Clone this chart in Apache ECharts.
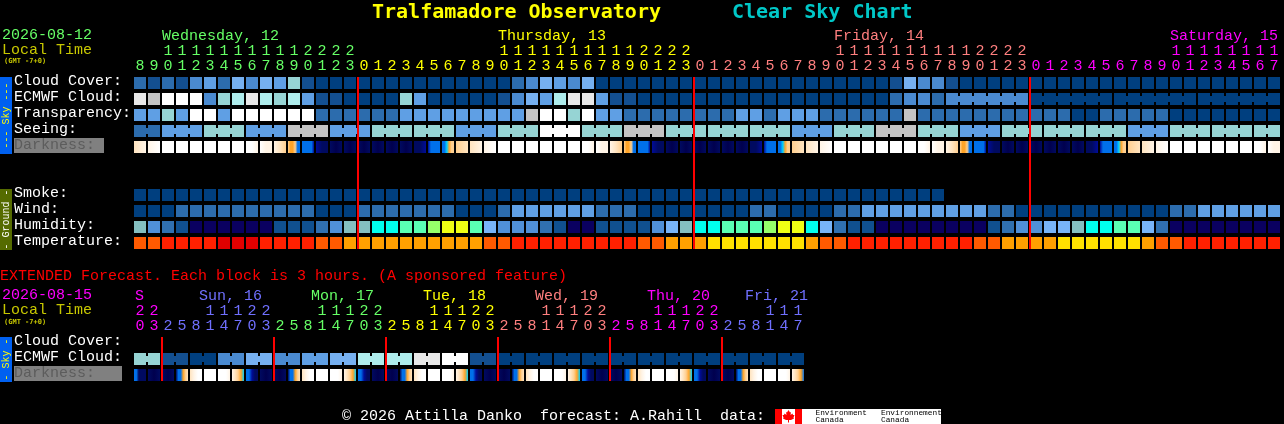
<!DOCTYPE html>
<html>
<head>
<meta charset="utf-8">
<style>html,body{margin:0;padding:0;background:#000}#c{width:1284px;height:424px}</style>
<script src="https://cdn.jsdelivr.net/npm/echarts@6/dist/echarts.min.js"></script>
</head>
<body>
<div id="c"></div>
<script>
/* ---------- row names ---------- */
const mainRows = ['Cloud Cover:','ECMWF Cloud:','Transparency:','Seeing:','Darkness:','','','Smoke:','Wind:','Humidity:','Temperature:'];
const extRows = ['Cloud Cover:','ECMWF Cloud:','Darkness:'];

/* ---------- tick labels ---------- */
const mainOnes = '8901234567890123012345678901234567890123012345678901234567890123012345678901234567'.split('');
const mainTens = '  11111111112222          11111111112222          11111111112222          11111111'.split('');
const mainDays = [[2,'Wednesday, 12',0],[26,'Thursday, 13',1],[50,'Friday, 14',2],[74,'Saturday, 15',3]];
const mainDayOf = [16,40,64,82];            // first column after each day
const extOnes = '032581470325814703258147032581470325814703258147'.split('');
const extTens = '22   11122   11122   11122   11122   11122   111'.split('');
const extDays = [[0,'S',3,-5],[5,'Sun, 16',4,-11],[13,'Mon, 17',0,-11],[21,'Tue, 18',1,-11],[29,'Wed, 19',2,-11],[37,'Thu, 20',3,-11],[44,'Fri, 21',4,-11]];
const extDayOf = [[2,3],[10,4],[18,0],[26,1],[34,2],[42,3],[48,4]];
const dayColors = ['#66ff66','#ffff00','#ff7f7f','#ff00ff','#7070ff'];
const mainMidnights = [16,40,64];
const extMidnights = [2,10,18,26,34,42];

/* ---------- palettes ---------- */
const skyPalette = ['#003f7f','#134f90','#2c6cad','#4a8ad0','#5f9fe4','#76b0f0','#96d4d4','#aeecec','#e8e8e8','#c4c4c4','#ffffff'];
const humidityPalette = ['#0a0060','#10508f','#3070b0','#5090d8','#78b4f8','#84bfc0','#00ffee','#5affb4','#96ff6a','#f0ff14'];
const temperaturePalette = ['#e00000','#ff2000','#ff5a00','#ffa000','#ffe000'];
const darknessPalette = ['#ffffff','#fff4e6','#ffe4c0','#ffcf90','#ffa428','#00d0ff','#0070ea','#000c98','#000a60','#00004e'];

/* ---------- sky rows ---------- */
const cloudCover = [
 2,1,2,1,3,4,2,5,3,5,
 4,6,1,0,0,0,0,0,0,0,
 0,0,0,0,0,0,0,2,3,5,
 4,3,5,0,0,0,0,0,0,0,
 0,0,0,0,0,0,0,0,0,0,
 0,0,0,0,1,5,3,3,1,0,
 0,0,0,0,0,0,0,0,0,0,
 0,0,0,0,0,0,0,0,0,0,0,0];
const ecmwfCloud = [
 8,9,10,10,10,3,6,7,8,7,
 6,7,4,1,1,0,0,0,0,6,
 4,0,0,0,0,0,1,3,5,4,
 7,8,8,4,1,1,0,0,0,0,
 0,0,0,0,0,0,0,0,0,0,
 0,0,0,0,2,3,3,2,3,3,
 3,3,3,3,0,0,0,0,0,0,
 0,0,0,0,0,0,0,0,0,0,0,0];
const ecmwfRuns = [1,1,1,1,1,1,1,1,1,1,1,1,1,1,1,1,1,1,1,1,1,1,1,1,1,1,1,1,1,1,1,1,1,1,1,1,1,1,1,1,1,1,1,1,1,1,1,1,1,1,1,1,1,1,1,1,1,1,6,6,6,6];
const transparency = [
 4,4,6,4,10,10,4,10,10,10,
 10,10,10,2,2,2,2,2,2,4,
 4,4,4,4,4,4,4,4,9,10,
 10,6,10,4,4,2,2,2,2,2,
 2,2,2,4,4,2,4,4,4,2,
 2,2,2,2,2,9,2,2,2,2,
 2,2,2,2,2,2,2,0,0,2,
 2,2,2,2,0,0,0,0,0,0,0,0];
const seeingBlocks = [2,4,6,4,9,4,6,6,4,6,10,6,9,6,6,6,4,6,9,6,4,6,6,6,4,6,6,6];
const seeingRuns = [2,3,3,3,3,3,3,3,3,3,3,3,3,3,3,3,3,3,3,3,3,3,3,3,3,3,3,2];
/* darkness: each cell is a left-to-right list of palette indices */
const W=[0], F1=[0,0,1], F2=[0,1,1], F3=[1,2,3], DU=[3,4,4,3,6,6], BL=[6,6,6,6,6,7], N0=[7,8,8], N=[8,9,8], N1=[8,8,7], B2=[7,6,6,6,6], DA=[6,6,5,4,3,3], C1=[3,2], C2=[2,1], C3=[1,0];
const darkness = [
 C2,C3,W,W,W,W,W,W,F1,F2,F3,DU,BL,N0,N,N,N,N,N,N,N1,B2,DA,C1,C2,C3,
 W,W,W,W,W,W,F1,F2,F3,DU,BL,N0,N,N,N,N,N,N,N1,B2,DA,C1,C2,C3,
 W,W,W,W,W,W,F1,F2,F3,DU,BL,N0,N,N,N,N,N,N,N1,B2,DA,C1,C2,C3,
 W,W,W,W,W,W,F1,F2];

/* ---------- ground rows ---------- */
const smoke = [
 0,0,0,0,0,0,0,0,0,0,0,0,0,0,0,0,0,0,0,0,
 0,0,0,0,0,0,0,0,0,0,0,0,0,0,0,0,0,0,0,0,
 0,0,0,0,0,0,0,0,0,0,0,0,0,0,0,0,0,0];
const wind = [
 0,0,0,2,2,2,2,2,2,2,
 2,2,2,0,0,0,2,2,2,2,
 2,2,2,0,0,0,2,4,4,4,
 4,4,4,2,2,2,0,0,0,0,
 0,0,0,0,2,2,0,0,0,0,
 2,2,4,4,4,4,4,4,4,4,
 4,2,2,0,0,0,0,0,0,0,
 0,0,0,0,2,2,4,4,4,4,4,4];
const humidity = [
 5,3,2,1,0,0,0,0,0,0,
 1,1,1,2,3,5,5,6,6,7,
 7,8,9,9,7,4,3,3,3,2,
 1,0,0,1,1,1,1,3,4,5,
 6,6,7,7,7,8,9,9,6,4,
 2,1,1,0,0,0,0,0,0,0,
 0,1,2,3,3,4,4,5,6,6,
 7,7,4,2,0,0,0,0,0,0,0,0];
const temperature = [
 2,2,1,1,1,1,0,0,0,1,
 1,1,1,2,2,3,3,3,3,3,
 3,3,3,3,3,2,2,1,1,1,
 1,1,1,1,1,1,2,2,3,3,
 3,4,4,4,4,4,4,4,3,2,
 2,1,1,1,1,1,1,1,1,1,
 2,2,3,3,3,3,4,4,4,4,
 4,4,3,2,2,1,1,1,1,1,1,1];

/* ---------- extended forecast ---------- */
const extCloudBlocks = [6,1,0,3,5,3,4,5,7,7,8,10,1,0,0,0,0,0,0,0,0,0,0,0];
const extCloudRuns = [2,2,2,2,2,2,2,2,2,2,2,2,2,2,2,2,2,2,2,2,2,2,2,2];
const XE=[6,6,8,8,8,8], XN=[8,9,8], XD=[8,6,6,4,3,2], XC=[2,1,0,0], XF=[0,0,0,1], XU=[1,2,3,4,5], XB=[6,6,7,8,8];
const extDarkness = [
 XE,XN,XN,XD,XC,W,XF,XU, XB,XN,XN,XD,XC,W,XF,XU,
 XB,XN,XN,XD,XC,W,XF,XU, XB,XN,XN,XD,XC,W,XF,XU,
 XB,XN,XN,XD,XC,W,XF,XU, XB,XN,XN,XD,XC,W,XF,[1,2,3,4,6]];

/* ---------- helpers ---------- */
const MONO = '"Liberation Mono","DejaVu Sans Mono",monospace';
const BOLD = '"DejaVu Sans Mono","Liberation Mono",monospace';
const expand = (blocks, runs) => blocks.flatMap((v,k)=>Array(runs[k]).fill(v));
const joinFlags = runs => runs.flatMap(r=>Array.from({length:r},(_,k)=>k<r-1));
const colorIdx = (ends, i) => ends.findIndex(e=>i<e);
const axisHidden = {axisLine:{show:false},axisTick:{show:false},splitLine:{show:false}};

function cellSeries(xIdx,yIdx,row,values,palette,joins){
  return {type:'custom',coordinateSystem:'cartesian2d',xAxisIndex:xIdx,yAxisIndex:yIdx,silent:true,
    data:values.map((v,i)=>[i,row,v]),encode:{x:0,y:1},
    renderItem(p,api){
      const i=api.value(0), c=api.coord([i,row]), s=api.size([1,1]);
      const l=c[0]-s[0]/2+1, t=c[1]-s[1]/2+2, w=s[0]-2, h=s[1]-4;
      const fill=palette[api.value(2)];
      const kids=[{type:'rect',shape:{x:l,y:t,width:w,height:h},style:{fill}}];
      if(joins&&joins[i]) kids.push({type:'rect',shape:{x:l+w,y:t+3,width:2,height:h-6},style:{fill}});
      return {type:'group',children:kids};
    }};
}
function gradSeries(xIdx,yIdx,row,cells){
  return {type:'custom',coordinateSystem:'cartesian2d',xAxisIndex:xIdx,yAxisIndex:yIdx,silent:true,
    data:cells.map((v,i)=>[i,row]),encode:{x:0,y:1},
    renderItem(p,api){
      const i=api.value(0), c=api.coord([i,row]), s=api.size([1,1]);
      const st=cells[i];
      const fill=st.length===1?darknessPalette[st[0]]:new echarts.graphic.LinearGradient(0,0,1,0,
        st.map((k,n)=>({offset:n/(st.length-1),color:darknessPalette[k]})));
      return {type:'rect',shape:{x:c[0]-s[0]/2+1,y:c[1]-s[1]/2+2,width:s[0]-2,height:s[1]-4},style:{fill}};
    }};
}
function redSeries(xIdx,yIdx,lastRow,marks){
  return {type:'custom',coordinateSystem:'cartesian2d',xAxisIndex:xIdx,yAxisIndex:yIdx,silent:true,z:5,
    data:marks.map(m=>[m,0]),encode:{x:0,y:1},
    renderItem(p,api){
      const m=api.value(0), a=api.coord([m,0]), b=api.coord([m,lastRow]), s=api.size([1,1]);
      const y0=a[1]-s[1]/2+2, y1=b[1]+s[1]/2-2;
      return {type:'rect',shape:{x:a[0]-s[0]/2,y:y0,width:2,height:y1-y0},style:{fill:'#ff0000'}};
    }};
}
function xAxisOf(gridIndex,labels,offset){
  return {type:'category',gridIndex,position:'top',offset,data:labels,...axisHidden,
    axisLabel:{interval:0,margin:1,hideOverlap:false,fontFamily:MONO,fontSize:15,showMinLabel:true,showMaxLabel:true}};
}
const txt=(x,y,text,fill,fontSize,weight,extra)=>Object.assign({type:'text',x,y,silent:true,
  style:{text,fill,fontFamily:weight==='bold'?BOLD:MONO,fontSize,fontWeight:weight||'normal',verticalAlign:'middle',align:'left'}},extra||{});
const box=(x,y,w,h,fill,extra)=>Object.assign({type:'rect',silent:true,shape:{x,y,width:w,height:h},style:{fill}},extra||{});
const vtxt=(x,y,text,fill)=>({type:'text',x,y,rotation:Math.PI/2,silent:true,
  style:{text,fill,fontFamily:MONO,fontSize:10,align:'center',verticalAlign:'middle'}});

/* axis label data */
const mainC=i=>dayColors[colorIdx(mainDayOf,i)];
const extC=i=>dayColors[extDayOf[extDayOf.findIndex(e=>i<e[0])][1]];
const mainDayLabels=mainOnes.map(()=>({value:''}));
mainDays.forEach(([i,t,c])=>mainDayLabels[i]={value:t,textStyle:{color:dayColors[c],align:'left',padding:[0,0,0,-6]}});
const extDayLabels=extOnes.map(()=>({value:''}));
extDays.forEach(([i,t,c,o])=>extDayLabels[i]={value:t,textStyle:{color:dayColors[c],align:'left',padding:[0,0,0,o]}});

const yLabel={interval:0,align:'left',margin:119,color:'#fff',fontFamily:MONO,fontSize:15,
  formatter:v=>v?`{t|${v}}`:'',rich:{t:{padding:[0,0,4,0]}}};
const dark={value:'Darkness:',textStyle:{color:'#5c5c5c',align:'left'}};

const option={
  backgroundColor:'#000',animation:false,
  grid:[
    {left:133,top:75,width:mainOnes.length*14,height:mainRows.length*16,outerBoundsMode:'none'},
    {left:133,top:335,width:extOnes.length*14,height:extRows.length*16,outerBoundsMode:'none'}
  ],
  xAxis:[
    xAxisOf(0,mainOnes.map((v,i)=>({value:v,textStyle:{color:mainC(i)}})),0),
    xAxisOf(0,mainTens.map((v,i)=>({value:v,textStyle:{color:mainC(i)}})),15),
    xAxisOf(0,mainDayLabels,30),
    xAxisOf(1,extOnes.map((v,i)=>({value:v,textStyle:{color:extC(i)}})),0),
    xAxisOf(1,extTens.map((v,i)=>({value:v,textStyle:{color:extC(i)}})),15),
    xAxisOf(1,extDayLabels,30)
  ],
  yAxis:[
    {type:'category',gridIndex:0,inverse:true,...axisHidden,data:mainRows.map(r=>r==='Darkness:'?dark:r),axisLabel:yLabel},
    {type:'category',gridIndex:1,inverse:true,...axisHidden,data:extRows.map(r=>r==='Darkness:'?dark:r),axisLabel:yLabel}
  ],
  graphic:{elements:[
    txt(372,13,'Tralfamadore Observatory','#ffff00',20,'bold'),
    txt(732,13,'Clear Sky Chart','#00c8c8',20,'bold'),
    txt(2,35,'2026-08-12','#66ff66',15),
    txt(2,50,'Local Time','#c8c800',15),
    txt(4,61.5,'(GMT -7+0)','#c8c800',7,'bold'),
    box(0,77,12,77,'#0060f0'),
    vtxt(6,115.5,'--- Sky ---','#ffff00'),
    box(0,189,12,61,'#556b00'),
    vtxt(6,219.5,'- Ground -','#ffffff'),
    box(14,138,90,15,'#808080',{z:-1}),
    txt(0,276,'EXTENDED Forecast. Each block is 3 hours. (A sponsored feature)','#ff0000',15),
    txt(2,295.5,'2026-08-15','#ff00ff',15),
    txt(2,310,'Local Time','#c8c800',15),
    txt(4,322,'(GMT -7+0)','#c8c800',7,'bold'),
    box(0,337,12,45,'#0060f0'),
    vtxt(6,359.5,'- Sky -','#ffff00'),
    box(14,366,108,15,'#808080',{z:-1}),
    txt(342,416,'© 2026 Attilla Danko  forecast: A.Rahill  data:','#ffffff',15),
    box(775,409,166,15,'#ffffff'),
    box(775,409,7,15,'#ff0000'),
    box(795,409,7,15,'#ff0000'),
    {type:'polygon',silent:true,shape:{points:[[788.5,410],[790,412.5],[791,412],[790.5,415],[792.5,413.5],[793,415],[794.5,415],[793.5,417.5],[794,418.5],[791,420],[789,420],[789,422.5],[788,422.5],[788,420],[786,420],[783,418.5],[783.5,417.5],[782.5,415],[784,415],[784.5,413.5],[786.5,415],[786,412],[787,412.5]]},style:{fill:'#ff0000'}},
    txt(815.5,412.5,'Environment','#000000',7.8),
    txt(815.5,420,'Canada','#000000',7.8),
    txt(881,412.5,'Environnement','#000000',7.8),
    txt(881,420,'Canada','#000000',7.8)
  ]},
  series:[
    cellSeries(0,0,0,cloudCover,skyPalette),
    cellSeries(0,0,1,ecmwfCloud,skyPalette,joinFlags(ecmwfRuns)),
    cellSeries(0,0,2,transparency,skyPalette),
    cellSeries(0,0,3,expand(seeingBlocks,seeingRuns),skyPalette,joinFlags(seeingRuns)),
    gradSeries(0,0,4,darkness),
    cellSeries(0,0,7,smoke,skyPalette),
    cellSeries(0,0,8,wind,skyPalette),
    cellSeries(0,0,9,humidity,humidityPalette),
    cellSeries(0,0,10,temperature,temperaturePalette),
    redSeries(0,0,10,mainMidnights),
    cellSeries(3,1,1,expand(extCloudBlocks,extCloudRuns),skyPalette,joinFlags(extCloudRuns)),
    gradSeries(3,1,2,extDarkness),
    redSeries(3,1,2,extMidnights)
  ]
};
echarts.init(document.getElementById('c'),null,{renderer:'canvas'}).setOption(option);
</script>
</body>
</html>
